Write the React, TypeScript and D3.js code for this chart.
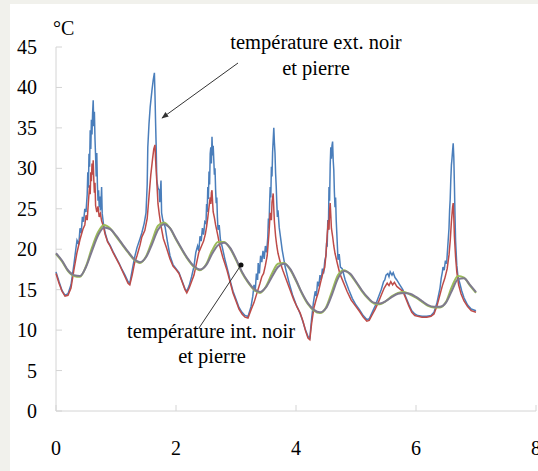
import { scaleLinear, line, curveMonotoneX, curveLinear } from "d3";

// time in days, temperature in °C
const extPierre: [number, number][] = [
  [0.0, 17.0], [0.05, 15.8], [0.1, 14.8], [0.15, 14.2], [0.2, 14.3], [0.25, 15.2], [0.3, 17.5], [0.35, 19.6],
  [0.4, 21.2], [0.45, 22.5], [0.48, 23.0], [0.5, 24.2], [0.52, 23.6], [0.54, 25.8], [0.56, 27.9], [0.57, 26.8],
  [0.58, 29.5], [0.59, 28.4], [0.6, 30.6], [0.61, 29.2], [0.62, 31.0], [0.63, 28.6], [0.64, 27.0], [0.65, 28.2],
  [0.66, 25.4], [0.68, 24.6], [0.7, 25.3], [0.72, 24.0], [0.74, 24.4], [0.76, 23.5], [0.79, 22.8], [0.82, 21.8],
  [0.86, 20.9], [0.9, 20.4], [0.95, 19.6], [1.0, 18.9], [1.05, 18.2], [1.1, 17.4], [1.15, 16.6], [1.2, 15.8],
  [1.23, 15.6], [1.27, 16.8], [1.31, 18.3], [1.35, 19.2], [1.4, 20.5], [1.43, 21.5], [1.48, 22.3], [1.52, 23.8],
  [1.55, 26.5], [1.58, 29.2], [1.61, 31.2], [1.63, 32.4], [1.65, 32.9], [1.66, 31.0], [1.68, 28.4], [1.7, 25.6],
  [1.72, 24.4], [1.75, 22.9], [1.79, 21.3], [1.84, 20.2], [1.9, 18.8], [1.95, 17.9], [2.0, 17.5], [2.05, 17.0],
  [2.1, 16.0], [2.15, 15.0], [2.18, 14.6], [2.22, 15.2], [2.26, 16.0], [2.3, 16.8], [2.34, 18.2], [2.38, 19.6],
  [2.42, 20.3], [2.46, 21.0], [2.49, 21.9], [2.51, 22.8], [2.53, 23.9], [2.55, 25.2], [2.57, 26.4], [2.58, 25.6],
  [2.59, 27.0], [2.6, 27.3], [2.61, 25.8], [2.62, 24.6], [2.64, 23.9], [2.66, 23.0], [2.68, 22.3], [2.7, 21.6],
  [2.73, 20.4], [2.78, 19.0], [2.85, 17.4], [2.9, 16.0], [2.95, 14.6], [3.0, 13.6], [3.05, 12.6], [3.1, 12.0],
  [3.15, 11.6], [3.2, 11.5], [3.25, 12.5], [3.3, 13.4], [3.35, 14.6], [3.4, 15.8], [3.43, 16.6], [3.46, 17.0],
  [3.49, 18.0], [3.52, 19.2], [3.55, 22.0], [3.57, 24.5], [3.59, 23.6], [3.6, 25.8], [3.62, 26.9], [3.63, 25.0],
  [3.64, 23.4], [3.66, 21.6], [3.68, 20.4], [3.7, 19.5], [3.74, 18.3], [3.78, 17.4], [3.84, 16.2], [3.9, 15.0],
  [3.96, 13.8], [4.02, 12.8], [4.07, 12.1], [4.12, 11.0], [4.16, 9.9], [4.2, 9.0], [4.23, 8.8], [4.26, 10.8],
  [4.3, 12.8], [4.34, 13.9], [4.37, 14.6], [4.41, 15.9], [4.44, 16.8], [4.48, 17.8], [4.5, 19.4], [4.52, 21.8],
  [4.54, 23.6], [4.55, 22.4], [4.56, 24.8], [4.57, 25.7], [4.58, 24.2], [4.59, 22.6], [4.61, 21.6], [4.63, 20.4],
  [4.65, 19.5], [4.69, 18.2], [4.73, 17.0], [4.79, 15.9], [4.85, 14.8], [4.92, 13.7], [5.0, 12.9], [5.06, 12.3],
  [5.12, 11.6], [5.18, 11.1], [5.22, 11.2], [5.27, 11.9], [5.32, 12.6], [5.37, 13.4], [5.42, 14.3], [5.47, 15.2],
  [5.52, 15.8], [5.55, 15.5], [5.58, 16.0], [5.61, 15.6], [5.64, 15.9], [5.68, 15.4], [5.73, 15.1], [5.78, 14.8],
  [5.83, 13.9], [5.88, 13.0], [5.93, 12.2], [5.98, 11.8], [6.03, 11.7], [6.1, 11.6], [6.18, 11.6], [6.25, 11.7],
  [6.3, 12.0], [6.35, 13.0], [6.4, 14.4], [6.44, 15.5], [6.48, 16.4], [6.52, 17.6], [6.55, 19.3], [6.57, 21.0],
  [6.59, 23.4], [6.61, 25.2], [6.62, 25.7], [6.63, 24.0], [6.64, 21.6], [6.66, 19.0], [6.68, 17.2], [6.71, 15.6],
  [6.75, 14.5], [6.8, 13.6], [6.86, 12.9], [6.92, 12.4], [7.0, 12.2],
];

const extNoir: [number, number][] = [
  [0.0, 17.2], [0.05, 16.0], [0.1, 14.9], [0.15, 14.3], [0.2, 14.5], [0.25, 15.6], [0.3, 18.2], [0.33, 20.0],
  [0.35, 21.1], [0.38, 20.6], [0.4, 22.6], [0.42, 22.0], [0.44, 24.0], [0.46, 23.4], [0.48, 25.0], [0.5, 24.6],
  [0.52, 26.8], [0.53, 29.5], [0.54, 27.6], [0.55, 31.8], [0.56, 30.2], [0.57, 34.7], [0.58, 32.4], [0.59, 36.0],
  [0.6, 34.2], [0.61, 36.8], [0.62, 38.4], [0.63, 35.2], [0.64, 37.0], [0.65, 33.6], [0.66, 31.5], [0.67, 29.0],
  [0.68, 31.9], [0.69, 28.0], [0.7, 26.0], [0.71, 27.3], [0.72, 25.2], [0.73, 26.5], [0.74, 24.8], [0.75, 25.6],
  [0.76, 27.7], [0.77, 24.4], [0.79, 23.2], [0.82, 22.0], [0.86, 21.0], [0.9, 20.5], [0.95, 19.7], [1.0, 19.0],
  [1.05, 18.3], [1.1, 17.5], [1.15, 16.8], [1.2, 16.0], [1.23, 15.8], [1.27, 17.4], [1.31, 19.0], [1.35, 20.2],
  [1.4, 21.3], [1.43, 22.0], [1.47, 23.2], [1.5, 24.5], [1.52, 28.0], [1.53, 32.6], [1.55, 35.5], [1.57, 37.6],
  [1.6, 39.7], [1.62, 40.9], [1.64, 41.8], [1.65, 39.0], [1.66, 35.6], [1.67, 32.6], [1.68, 28.5], [1.7, 27.6],
  [1.72, 27.3], [1.73, 25.8], [1.75, 28.5], [1.76, 24.5], [1.78, 23.6], [1.82, 22.7], [1.86, 20.8], [1.9, 19.2],
  [1.95, 18.1], [2.0, 17.6], [2.05, 17.1], [2.1, 16.1], [2.15, 15.1], [2.18, 14.8], [2.22, 15.5], [2.26, 16.6],
  [2.3, 17.9], [2.33, 19.6], [2.36, 20.4], [2.38, 19.8], [2.4, 21.6], [2.42, 21.0], [2.44, 22.6], [2.46, 21.8],
  [2.48, 23.4], [2.5, 23.2], [2.51, 25.6], [2.52, 24.6], [2.53, 27.7], [2.54, 26.2], [2.55, 29.6], [2.56, 28.0],
  [2.57, 31.8], [2.58, 32.6], [2.59, 30.6], [2.6, 33.9], [2.61, 31.6], [2.62, 32.8], [2.63, 31.0], [2.64, 29.2],
  [2.65, 30.0], [2.66, 27.4], [2.67, 25.7], [2.68, 26.4], [2.69, 24.0], [2.7, 22.4], [2.72, 23.0], [2.74, 21.2],
  [2.77, 20.3], [2.82, 18.6], [2.88, 16.9], [2.9, 16.2], [2.95, 14.8], [3.0, 13.8], [3.05, 12.8], [3.1, 12.2],
  [3.15, 11.8], [3.2, 11.7], [3.25, 12.9], [3.28, 14.2], [3.3, 15.6], [3.32, 14.8], [3.34, 17.0], [3.36, 16.2],
  [3.37, 18.3], [3.39, 17.0], [3.41, 19.2], [3.43, 18.4], [3.45, 19.8], [3.47, 18.8], [3.49, 20.4], [3.51, 19.6],
  [3.53, 21.5], [3.54, 23.8], [3.55, 22.6], [3.56, 25.6], [3.57, 27.7], [3.58, 26.4], [3.59, 30.2], [3.6, 29.0],
  [3.61, 32.0], [3.62, 33.5], [3.63, 35.0], [3.64, 33.2], [3.65, 31.9], [3.66, 29.4], [3.67, 27.8], [3.68, 25.7],
  [3.69, 24.0], [3.7, 24.8], [3.72, 22.7], [3.74, 21.6], [3.77, 19.9], [3.82, 17.8], [3.88, 16.0], [3.94, 14.4],
  [4.0, 13.2], [4.05, 12.4], [4.1, 11.4], [4.15, 10.2], [4.2, 9.2], [4.23, 9.0], [4.26, 11.4], [4.29, 13.4],
  [4.32, 14.8], [4.34, 14.2], [4.36, 16.0], [4.38, 15.4], [4.4, 16.8], [4.42, 16.2], [4.44, 17.6], [4.46, 17.0],
  [4.48, 18.6], [4.5, 19.2], [4.51, 20.8], [4.52, 20.3], [4.53, 23.6], [4.54, 22.4], [4.55, 27.7], [4.56, 26.0],
  [4.57, 30.4], [4.58, 32.6], [4.59, 31.2], [4.6, 32.8], [4.61, 33.3], [4.62, 31.0], [4.63, 29.8], [4.64, 27.0],
  [4.65, 25.2], [4.66, 26.4], [4.67, 23.6], [4.68, 22.0], [4.7, 18.7], [4.72, 19.4], [4.74, 17.8], [4.77, 17.6],
  [4.82, 16.2], [4.88, 15.0], [4.94, 13.9], [5.0, 13.1], [5.06, 12.5], [5.12, 11.8], [5.18, 11.3], [5.22, 11.4],
  [5.27, 12.2], [5.32, 13.0], [5.37, 14.0], [5.42, 15.0], [5.46, 16.0], [5.48, 16.2], [5.5, 16.8], [5.53, 17.0],
  [5.55, 16.6], [5.57, 17.2], [5.6, 16.8], [5.62, 17.1], [5.65, 16.5], [5.68, 16.2], [5.73, 15.6], [5.78, 15.0],
  [5.83, 14.1], [5.88, 13.2], [5.93, 12.4], [5.98, 12.0], [6.03, 11.8], [6.1, 11.7], [6.18, 11.7], [6.25, 11.8],
  [6.3, 12.2], [6.35, 13.4], [6.4, 15.2], [6.42, 16.4], [6.44, 17.2], [6.45, 17.8], [6.47, 17.4], [6.49, 18.6],
  [6.51, 18.2], [6.53, 20.4], [6.55, 22.6], [6.56, 24.8], [6.57, 26.2], [6.58, 28.6], [6.59, 30.4], [6.6, 31.2],
  [6.61, 32.2], [6.62, 33.1], [6.63, 31.4], [6.64, 28.0], [6.65, 24.2], [6.66, 21.0], [6.68, 18.0], [6.7, 16.6],
  [6.73, 15.8], [6.76, 14.9], [6.8, 14.0], [6.86, 13.1], [6.92, 12.6], [7.0, 12.4],
];

const intDays = [
  0.0, 0.1, 0.2, 0.3, 0.4, 0.5, 0.6, 0.7, 0.8, 0.9, 1.0, 1.1, 1.2, 1.3, 1.4, 1.5, 1.6, 1.7, 1.8, 1.9,
  2.0, 2.1, 2.2, 2.3, 2.4, 2.5, 2.6, 2.7, 2.8, 2.9, 3.0, 3.1, 3.2, 3.3, 3.4, 3.5, 3.6, 3.7, 3.8, 3.9,
  4.0, 4.1, 4.2, 4.3, 4.4, 4.5, 4.6, 4.7, 4.8, 4.9, 5.0, 5.1, 5.2, 5.3, 5.4, 5.5, 5.6, 5.7, 5.8, 5.9,
  6.0, 6.1, 6.2, 6.3, 6.4, 6.5, 6.6, 6.7, 6.8, 6.9, 7.0,
];

const intPierre = [
  19.5, 18.6, 17.4, 16.8, 16.7, 17.8, 19.8, 21.7, 22.7, 22.5, 21.7, 20.7, 19.7, 18.8, 18.4, 19.0, 20.6, 22.4, 23.1, 22.6,
  21.3, 20.0, 18.8, 17.9, 17.5, 18.0, 19.4, 20.5, 20.8, 20.2, 18.8, 17.2, 16.0, 15.1, 14.7, 15.3, 16.6, 17.8, 18.2, 17.6,
  16.2, 14.6, 13.3, 12.5, 12.2, 12.7, 14.4, 16.4, 17.3, 17.0, 16.0, 14.9, 14.0, 13.4, 13.3, 13.6, 14.1, 14.5, 14.6, 14.5,
  14.1, 13.6, 13.1, 12.9, 12.9, 13.4, 14.9, 16.3, 16.4, 15.6, 14.7,
];

const intNoir = [
  19.4, 18.5, 17.3, 16.7, 16.6, 17.9, 20.2, 22.1, 23.0, 22.6, 21.6, 20.6, 19.6, 18.7, 18.3, 19.1, 21.0, 22.9, 23.3, 22.6,
  21.2, 19.9, 18.7, 17.8, 17.4, 18.1, 19.8, 20.9, 20.9, 20.1, 18.7, 17.1, 15.9, 15.0, 14.6, 15.4, 17.0, 18.2, 18.3, 17.5,
  16.1, 14.5, 13.2, 12.4, 12.1, 12.8, 14.8, 16.8, 17.4, 16.9, 15.9, 14.8, 13.9, 13.3, 13.2, 13.6, 14.2, 14.6, 14.7, 14.4,
  14.0, 13.5, 13.0, 12.8, 12.8, 13.5, 15.4, 16.7, 16.5, 15.5, 14.6,
];

const yTicks = [0, 5, 10, 15, 20, 25, 30, 35, 40, 45];
const xTicks = [0, 2, 4, 6, 8];

const W = 538;
const H = 471;
const font = "Liberation Serif";

export default function App() {
  const x = scaleLinear().domain([0, 8]).range([56, 536]);
  const y = scaleLinear().domain([0, 45]).range([411, 47]);

  const rough = line<[number, number]>()
    .x((d) => x(d[0]))
    .y((d) => y(d[1]))
    .curve(curveLinear);

  const smooth = line<number>()
    .x((_, i) => x(intDays[i]))
    .y((d) => y(d))
    .curve(curveMonotoneX);

  return (
    <div style={{ position: "absolute", left: 0, top: 0 }}>
      <svg width={W} height={H} style={{ display: "block" }}>
        <defs>
          <marker id="arr" viewBox="0 0 10 10" refX="9" refY="5" markerWidth="7" markerHeight="7" orient="auto">
            <path d="M0,1 L10,5 L0,9 z" fill="#333" />
          </marker>
        </defs>
        <rect x={0} y={0} width={W} height={H} fill="#f1f1ec" />
        <rect x={10} y={4} width={W - 10} height={H - 4} fill="#fff" />

        {/* axes */}
        <line x1={x(0)} x2={x(0)} y1={y(45)} y2={y(0)} stroke="#d4d4d4" />
        <line x1={x(0)} x2={x(8)} y1={y(0)} y2={y(0)} stroke="#d4d4d4" />
        {yTicks.map((t) => (
          <g key={t}>
            <line x1={x(0)} x2={x(0) + 6} y1={y(t)} y2={y(t)} stroke="#d4d4d4" />
            <text x={37} y={y(t)} dy="0.35em" textAnchor="end" fontSize={20} fontFamily={font} fill="#000">
              {t}
            </text>
          </g>
        ))}
        {xTicks.map((t) => (
          <g key={t}>
            <line x1={x(t)} x2={x(t)} y1={y(0)} y2={y(0) - 6} stroke="#d4d4d4" />
            <text x={x(t)} y={455} textAnchor="middle" fontSize={20} fontFamily={font} fill="#000">
              {t}
            </text>
          </g>
        ))}
        <text x={53} y={35} fontSize={20} fontFamily={font} fill="#000">
          °C
        </text>

        {/* series */}
        <path d={rough(extNoir) ?? ""} fill="none" stroke="#4a7ebb" strokeWidth={1.5} />
        <path d={rough(extPierre) ?? ""} fill="none" stroke="#be4b48" strokeWidth={1.5} />
        <path d={smooth(intNoir) ?? ""} fill="none" stroke="#9bbb59" strokeWidth={2} />
        <path d={smooth(intPierre) ?? ""} fill="none" stroke="#7f7a8e" strokeWidth={2} />

        {/* annotations */}
        <text x={316} y={49} textAnchor="middle" fontSize={20.5} fontFamily={font} fill="#000">
          température ext. noir
        </text>
        <text x={316} y={75} textAnchor="middle" fontSize={20.5} fontFamily={font} fill="#000">
          et pierre
        </text>
        <line x1={238} y1={63} x2={162} y2={118} stroke="#333" strokeWidth={1} markerEnd="url(#arr)" />

        <text x={211} y={338} textAnchor="middle" fontSize={20.5} fontFamily={font} fill="#000">
          température int. noir
        </text>
        <text x={212} y={363} textAnchor="middle" fontSize={20.5} fontFamily={font} fill="#000">
          et pierre
        </text>
        <line x1={199} y1={328} x2={241} y2={265} stroke="#333" strokeWidth={1} />
        <circle cx={241} cy={265} r={2.5} fill="#111" />
      </svg>
    </div>
  );
}
